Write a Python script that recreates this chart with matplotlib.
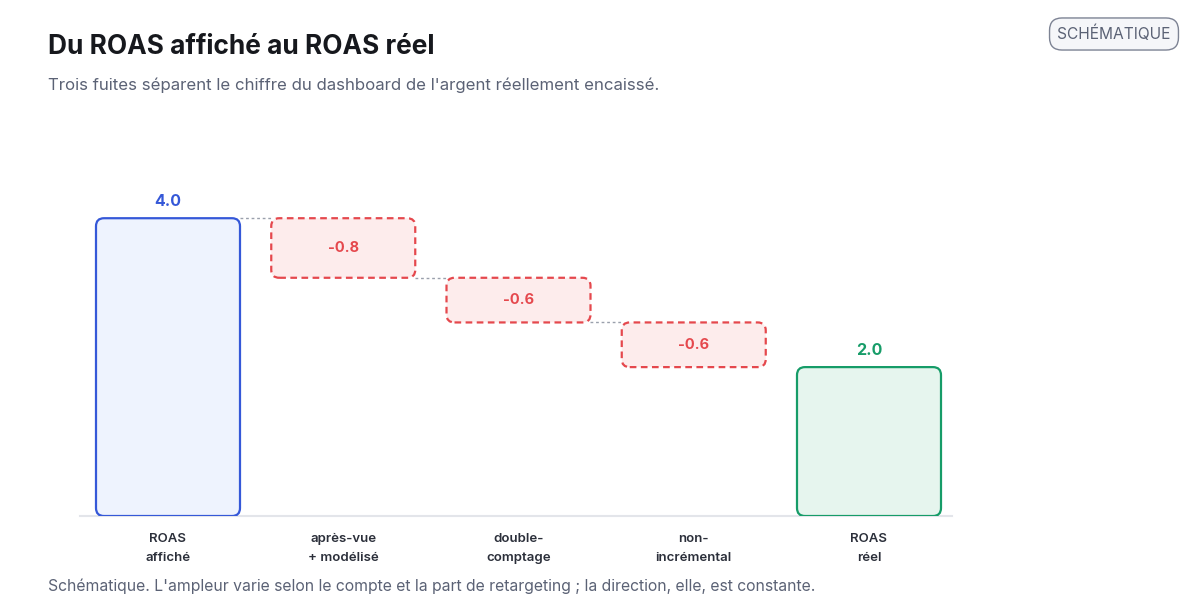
import matplotlib
matplotlib.use("Agg")
import matplotlib.pyplot as plt
from matplotlib.patches import FancyBboxPatch

plt.rcParams["font.family"] = ["Inter", "DejaVu Sans"]

# ── Données ───────────────────────────────────────────────────────────────────
categories = ["ROAS\naffiché", "après-vue\n+ modélisé", "double-\ncomptage",
              "non-\nincrémental", "ROAS\nréel"]
roas_affiche = 4.0
fuites = [-0.8, -0.6, -0.6]
roas_reel = 2.0

BLUE, BLUE_FILL = "#3558d8", "#eef3fe"
GREEN, GREEN_FILL = "#169c68", "#e6f5ee"
RED, RED_FILL = "#e5484d", "#fdecec"
GRAY_TXT = "#5b6275"

fig = plt.figure(figsize=(12, 6), dpi=100)
ax = fig.add_axes([80 / 1200, 84 / 600, 872 / 1200, 335 / 600])
PX = 175.25  # px par unité x
ax.set_xlim(-88 / PX, 4 + 83 / PX)
ax.set_ylim(0, 4.5)
ax.axis("off")

W = 144 / PX
# rayon des coins ~8 px
rx = 8 / PX
ry = 8 / 74.4


def boite(x, bas, haut, edge, face, ls="-"):
    p = FancyBboxPatch((x - W / 2, bas), W, haut - bas,
                       boxstyle=f"round,pad=0,rounding_size={rx}",
                       mutation_aspect=ry / rx,
                       facecolor=face, edgecolor=edge, linewidth=1.6,
                       linestyle=ls, zorder=3)
    ax.add_patch(p)


# barre de départ
boite(0, 0, roas_affiche, BLUE, BLUE_FILL)
ax.text(0, roas_affiche + 0.12, f"{roas_affiche:.1f}", ha="center", va="bottom",
        color=BLUE, fontsize=11.5, fontweight="bold")

# fuites
niveau = roas_affiche
for i, f in enumerate(fuites, start=1):
    haut, bas = niveau, niveau + f
    ax.plot([i - 1 + W / 2, i - W / 2], [haut, haut], color="#9aa0ac",
            lw=1, ls=(0, (2, 2)), zorder=2)
    boite(i, bas, haut, RED, RED_FILL, ls=(0, (3, 2)))
    ax.text(i, (haut + bas) / 2, f"{f:.1f}", ha="center", va="center",
            color=RED, fontsize=10.5, fontweight="bold", zorder=4)
    niveau = bas

# barre finale
boite(4, 0, roas_reel, GREEN, GREEN_FILL)
ax.text(4, roas_reel + 0.12, f"{roas_reel:.1f}", ha="center", va="bottom",
        color=GREEN, fontsize=11.5, fontweight="bold")

# ligne de base
ax.plot(ax.get_xlim(), [0, 0], color="#e3e5ea", lw=1.5, zorder=1,
        clip_on=False)

for i, c in enumerate(categories):
    ax.text(i, -0.23, c, ha="center", va="top", color="#2b2f3a",
            fontsize=9.5, fontweight="semibold", linespacing=1.75)

# ── Titres ────────────────────────────────────────────────────────────────────
fig.text(48 / 1200, 1 - 47 / 600, "Du ROAS affiché au ROAS réel",
         ha="left", va="center", fontsize=18.9, fontweight="bold",
         color="#16181d")
fig.text(48 / 1200, 1 - 85 / 600,
         "Trois fuites séparent le chiffre du dashboard de l'argent réellement encaissé.",
         ha="left", va="center", fontsize=12.1, color=GRAY_TXT)
fig.text(48 / 1200, 1 - 586 / 600,
         "Schématique. L'ampleur varie selon le compte et la part de retargeting ; "
         "la direction, elle, est constante.",
         ha="left", va="center", fontsize=11.33, color=GRAY_TXT)
fig.text(1114 / 1200, 1 - 34 / 600, "SCHÉMATIQUE", ha="center", va="center",
         fontsize=11.2, color=GRAY_TXT,
         bbox=dict(boxstyle="round,pad=0.5,rounding_size=0.8",
                   facecolor="#f5f6f9", edgecolor="#7d8394", linewidth=1))

fig.savefig("out.png", dpi=100)
